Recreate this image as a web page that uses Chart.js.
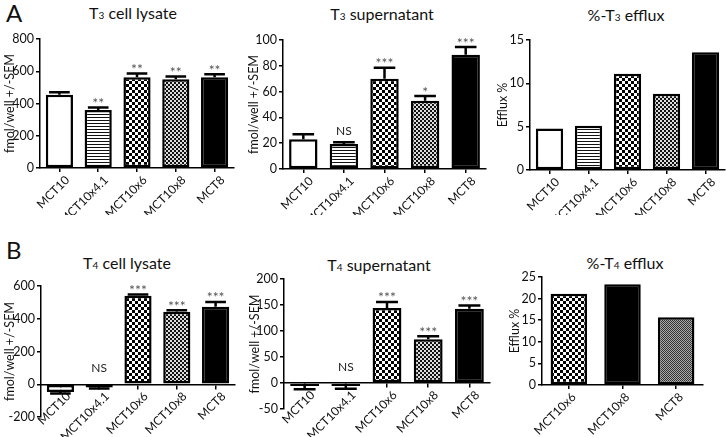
<!DOCTYPE html>
<html>
<head>
<meta charset="utf-8">
<script src="https://cdn.jsdelivr.net/npm/chart.js@4.4.1/dist/chart.umd.min.js"></script>
<style>
  body { margin: 0; background: #fff; width: 726px; height: 437px; position: relative; overflow: hidden; font-family: Lato, sans-serif; color: #111; }
  canvas { position: absolute; }
  .ttl { position: absolute; font-size: 16px; line-height: 20px; white-space: nowrap; transform: translateX(-50%); }
  .ttl .s { font-size: 10px; }
  .letter { position: absolute; font-size: 24px; line-height: 24px; }
</style>
</head>
<body>
<div class="letter" style="left:6px;top:1px">A</div>
<div class="letter" style="left:6px;top:238px">B</div>
<div class="ttl" style="left:133px;top:3px">T<span class="s">3</span> cell lysate</div>
<div class="ttl" style="left:382px;top:4px">T<span class="s">3</span> supernatant</div>
<div class="ttl" style="left:626px;top:5px">%-T<span class="s">3</span> efflux</div>
<div class="ttl" style="left:127px;top:253px">T<span class="s">4</span> cell lysate</div>
<div class="ttl" style="left:379px;top:255px">T<span class="s">4</span> supernatant</div>
<div class="ttl" style="left:625px;top:253px">%-T<span class="s">4</span> efflux</div>

<canvas id="a1" width="245" height="215" style="left:0;top:0"></canvas>
<canvas id="a2" width="250" height="215" style="left:244px;top:0"></canvas>
<canvas id="a3" width="236" height="215" style="left:490px;top:0"></canvas>
<canvas id="b1" width="245" height="217" style="left:0;top:220px"></canvas>
<canvas id="b2" width="250" height="217" style="left:244px;top:220px"></canvas>
<canvas id="b3" width="226" height="217" style="left:500px;top:220px"></canvas>

<script>
// categories
const cells5 = ['MCT10', 'MCT10x4.1', 'MCT10x6', 'MCT10x8', 'MCT8'];
const cells3 = ['MCT10x6', 'MCT10x8', 'MCT8'];

// T3 (panel A)
const t3Lysate = [455, 360, 563, 551, 563];
const t3LysateSem = [15, 15, 23, 17, 19];
const t3LysateSig = ['', '**', '**', '**', '**'];
const t3Super = [23, 19.3, 70, 53, 88.5];
const t3SuperSem = [4, 1.5, 8.5, 3.5, 6];
const t3SuperSig = ['', 'NS', '***', '*', '***'];
const t3Efflux = [4.8, 5.1, 11.1, 8.8, 13.6];

// T4 (panel B)
const t4Lysate = [-48, -20, 540, 442, 473];
const t4LysateSem = [9, 6, 8, 10, 30];
const t4LysateSig = ['', 'NS', '***', '***', '***'];
const t4Super = [-6, -6, 144, 84, 143];
const t4SuperSem = [6, 5, 12, 6, 6];
const t4SuperSig = ['', 'NS', '***', '***', '***'];
const t4Efflux = [21.1, 23.3, 15.7];

// fill patterns
function makePattern(size, draw) {
  const c = document.createElement('canvas');
  c.width = c.height = size;
  const g = c.getContext('2d');
  draw(g);
  return g.createPattern(c, 'repeat');
}
const stripes = makePattern(3, g => { g.fillStyle = '#fff'; g.fillRect(0, 0, 3, 3); g.fillStyle = '#111'; g.fillRect(0, 0, 3, 1); });
const bigCheck = makePattern(6, g => { g.fillStyle = '#fff'; g.fillRect(0, 0, 6, 6); g.fillStyle = '#000'; g.fillRect(0, 0, 3, 3); g.fillRect(3, 3, 3, 3); });
const fineCheck = makePattern(4, g => { g.fillStyle = '#ddd'; g.fillRect(0, 0, 4, 4); g.fillStyle = '#111'; g.fillRect(0, 0, 2, 2); g.fillRect(2, 2, 2, 2); });
const grayCheck = makePattern(2, g => { g.fillStyle = '#aaa'; g.fillRect(0, 0, 2, 2); g.fillStyle = '#333'; g.fillRect(0, 0, 1, 1); g.fillRect(1, 1, 1, 1); });
const fills5 = ['#fff', stripes, bigCheck, fineCheck, '#000'];
const fills3 = [bigCheck, '#000', grayCheck];

// error bars + significance marks
const barExtras = {
  id: 'barExtras',
  afterDatasetsDraw(chart) {
    const o = chart.options.plugins.barExtras;
    if (!o) return;
    const ys = chart.scales.y;
    const ctx = chart.ctx;
    const vals = chart.data.datasets[0].data;
    chart.getDatasetMeta(0).data.forEach((bar, i) => {
      const v = vals[i];
      let tip = v;
      if (o.sem) {
        tip = v + (v < 0 ? -o.sem[i] : o.sem[i]);
        const y0 = ys.getPixelForValue(v), y1 = ys.getPixelForValue(tip);
        const hw = bar.width * 0.38;
        ctx.save();
        ctx.strokeStyle = '#000';
        ctx.lineWidth = 2.5;
        ctx.beginPath();
        ctx.moveTo(bar.x, y0); ctx.lineTo(bar.x, y1);
        ctx.moveTo(bar.x - hw, y1); ctx.lineTo(bar.x + hw, y1);
        ctx.stroke();
        ctx.restore();
      }
      const t = o.sig && o.sig[i];
      if (t) {
        const base = ys.getPixelForValue(Math.max(tip, 0));
        const ns = t === 'NS';
        const y = base - (ns ? 11 : 4) - (v < 0 ? 5 : 0);
        ctx.save();
        ctx.font = ns ? '12px Lato' : '14px Lato';
        ctx.fillStyle = ns ? '#222' : '#555';
        ctx.textAlign = 'center';
        ctx.textBaseline = 'middle';
        ctx.fillText(t, bar.x, y);
        ctx.restore();
      }
    });
  }
};

function panel(id, labels, values, fills, opt) {
  const zeroAxis = opt.zeroAxis;
  new Chart(document.getElementById(id), {
    type: 'bar',
    data: {
      labels: labels,
      datasets: [{
        data: values,
        backgroundColor: fills,
        borderColor: '#000',
        borderWidth: 2.5,
        borderSkipped: false,
        barPercentage: opt.barPct || 0.7,
        categoryPercentage: 1
      }]
    },
    options: {
      responsive: false,
      animation: false,
      devicePixelRatio: 1,
      layout: { padding: { top: opt.padTop, right: opt.padRight, bottom: opt.padBottom || 0, left: 0 } },
      plugins: {
        legend: { display: false },
        tooltip: { enabled: false },
        barExtras: { sem: opt.sem, sig: opt.sig }
      },
      scales: {
        x: {
          position: zeroAxis ? { y: 0 } : 'bottom',
          offset: true,
          grid: { offset: false, drawOnChartArea: false, drawTicks: true, tickLength: 4, color: '#000', lineWidth: 1.5 },
          border: { color: '#000', width: 1.5 },
          ticks: { color: '#111', font: { family: 'Lato', size: 12 }, minRotation: 45, maxRotation: 45, autoSkip: false, padding: 1, labelOffset: opt.labelShift || 8 },
          afterFit: zeroAxis ? undefined : s => { s.height = opt.xHeight; }
        },
        y: {
          min: opt.min, max: opt.max,
          grid: { drawOnChartArea: false, drawTicks: true, tickLength: 4, color: '#000', lineWidth: 1.5 },
          border: { color: '#000', width: 1.5 },
          ticks: { color: '#111', font: { family: 'Lato', size: 12.5 }, stepSize: opt.step, padding: 2 },
          title: { display: true, text: opt.yTitle, color: '#111', font: { family: 'Lato', size: 12.5 }, padding: { top: opt.titlePad || 2, bottom: 0 } },
          afterFit: s => { s.width = opt.yWidth; }
        }
      }
    },
    plugins: [barExtras]
  });
}

const yFmol = 'fmol/well +/-SEM';
panel('a1', cells5, t3Lysate, fills5, { min: 0, max: 800, step: 200, yTitle: yFmol, yWidth: 40, padTop: 39, padRight: 11, xHeight: 47, sem: t3LysateSem, sig: t3LysateSig });
panel('a2', cells5, t3Super, fills5, { min: 0, max: 100, step: 20, yTitle: yFmol, yWidth: 39, padTop: 40, padRight: 8, xHeight: 46, sem: t3SuperSem, sig: t3SuperSig });
panel('a3', cells5, t3Efflux, fills5, { min: 0, max: 15, step: 5, yTitle: 'Efflux %', yWidth: 40, padTop: 40, padRight: 1, xHeight: 45, titlePad: 5 });
panel('b1', cells5, t4Lysate, fills5, { min: -200, max: 600, step: 200, yTitle: yFmol, yWidth: 41, padTop: 66, padRight: 10, padBottom: 20, zeroAxis: true, sem: t4LysateSem, sig: t4LysateSig });
panel('b2', cells5, t4Super, fills5, { min: -50, max: 200, step: 50, yTitle: yFmol, yWidth: 40, padTop: 59, padRight: 4, padBottom: 28, zeroAxis: true, sem: t4SuperSem, sig: t4SuperSig, titlePad: 3 });
panel('b3', cells3, t4Efflux, fills3, { min: 0, max: 25, step: 5, yTitle: 'Efflux %', yWidth: 42, padTop: 57, padRight: 23, xHeight: 52, barPct: 0.68, titlePad: 7, labelShift: 5 });
</script>
</body>
</html>
